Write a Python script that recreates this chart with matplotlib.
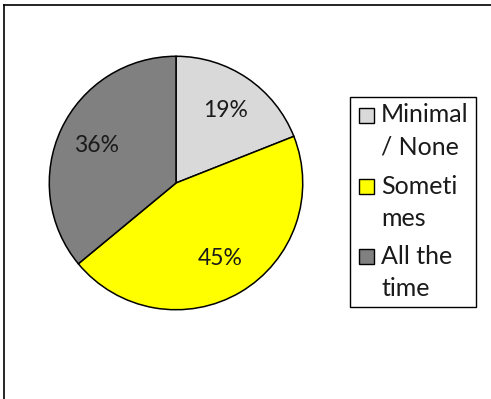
import matplotlib.pyplot as plt
from matplotlib.lines import Line2D
from matplotlib.patches import Rectangle

plt.rcParams['font.family'] = ['Lato', 'DejaVu Sans']

categories = ["Minimal\n/ None", "Someti\nmes", "All the\ntime"]
shares = [19, 45, 36]
colors = ["#D9D9D9", "#FFFF00", "#808080"]

W, H = 491, 399
fig = plt.figure(figsize=(W / 100, H / 100), dpi=100)

# pie placed by pixel geometry: centre (176, 183), radius 128
cx, cy, r = 176, 183, 128
ax = fig.add_axes([(cx - r) / W, (H - cy - r) / H, 2 * r / W, 2 * r / H])
wedges, texts, autotexts = ax.pie(
    shares, colors=colors, startangle=90, counterclock=False,
    autopct=lambda p: f"{p:.0f}%", pctdistance=0.69,
    wedgeprops=dict(edgecolor="black", linewidth=1.1),
    textprops=dict(fontsize=16.5, color="#1a1a1a"))
ax.set_xlim(-1.01, 1.01)
ax.set_ylim(-1.01, 1.01)
ax.set_aspect("equal")

# outer chart border (only top and left edges show)
fig.add_artist(Line2D([4 / W, 4 / W], [0, 1 - 4.5 / H], color="black", lw=1.2))
fig.add_artist(Line2D([4 / W, 1], [1 - 4.5 / H, 1 - 4.5 / H], color="black", lw=1.2))

# legend box
bx0, bx1, by0, by1 = 350, 476, 97, 307
fig.add_artist(Rectangle((bx0 / W, 1 - by1 / H), (bx1 - bx0) / W, (by1 - by0) / H,
                         transform=fig.transFigure, fill=False, edgecolor="black", lw=1.0))
first_line_y = [115, 186, 256]
for lab, col, y in zip(categories, colors, first_line_y):
    fig.add_artist(Rectangle((359 / W, 1 - (y + 8) / H), 15 / W, 15 / H,
                             transform=fig.transFigure, facecolor=col,
                             edgecolor="black", lw=1.0))
    line1, line2 = lab.split("\n")
    fig.text(381 / W, 1 - y / H, line1, fontsize=18, va="center", ha="left", color="#1a1a1a")
    fig.text(381 / W, 1 - (y + 32) / H, line2, fontsize=18, va="center", ha="left", color="#1a1a1a")

fig.savefig("out.png", dpi=100)
